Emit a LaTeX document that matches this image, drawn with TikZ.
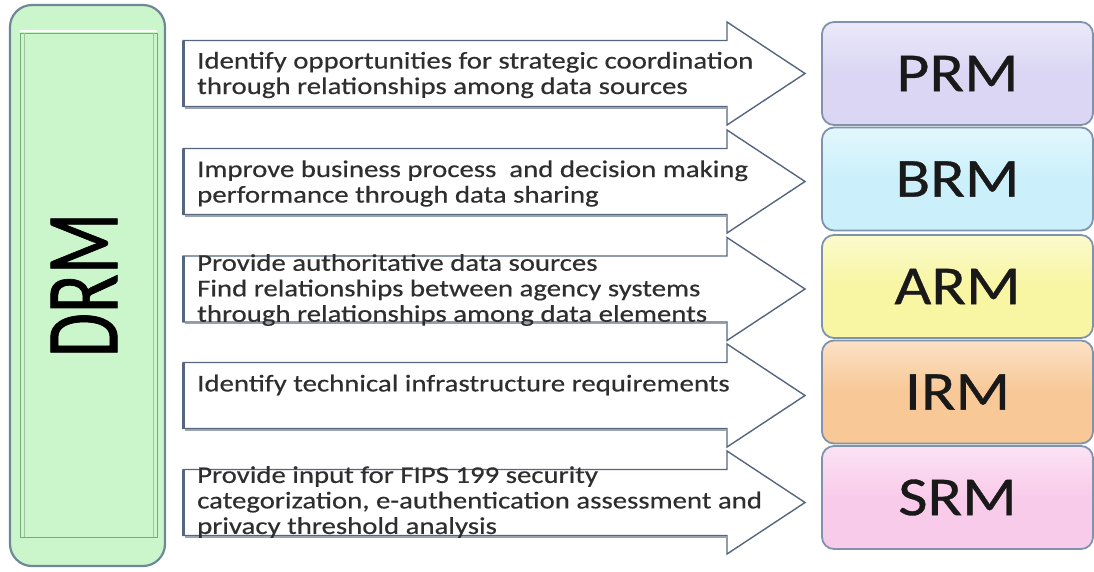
\documentclass[tikz,border=0pt]{standalone}
\usepackage{fontspec}
\usepackage{tikz}
\setmainfont[FakeStretch=1.2,FakeBold=0.4]{Carlito}
\newfontfamily\drmfont[FakeStretch=0.69,FakeBold=0.6]{Carlito}
\newfontfamily\boxfont[FakeStretch=1.16,FakeBold=0.6]{Carlito}

\definecolor{drmfill}{HTML}{CBF5CB}
\definecolor{drmline}{HTML}{6F8898}
\definecolor{drmgreen}{HTML}{74AE74}
\definecolor{arrline}{HTML}{56667E}
\definecolor{txtgray}{HTML}{2E2E2E}
\definecolor{boxline}{HTML}{7F93AD}
\definecolor{prmfill}{HTML}{DAD6F4}
\definecolor{brmfill}{HTML}{CBF0FB}
\definecolor{armfill}{HTML}{F8F6A2}
\definecolor{irmfill}{HTML}{F8C896}
\definecolor{srmfill}{HTML}{F9CBEA}

\begin{document}
\begin{tikzpicture}[x=1pt,y=-1pt,
  arrowtext/.style={anchor=west,align=left,inner sep=0pt,text=txtgray,
    font=\fontsize{24}{25.5}\selectfont},
  arrowline/.style={draw=arrline,line width=1.4pt,fill=white,line join=miter},
  refbox/.style={draw=boxline,line width=1.8pt,rounded corners=12pt,
    minimum width=271pt,minimum height=103pt,text=black!90,
    font=\boxfont\fontsize{55}{60}\selectfont}]
\useasboundingbox (0,0) rectangle (1094,571);

% DRM column
\draw[drmline,fill=drmfill,rounded corners=22pt,line width=2.2pt] (10,5) rectangle (165,566);
\draw[white,line width=2pt] (20,31) -- (157,31);
\draw[drmgreen,line width=1pt] (20,33) rectangle (157,537);
\draw[drmgreen!70,line width=0.8pt] (24,33) -- (24,537);
\draw[drmgreen!70,line width=0.8pt] (153,33) -- (153,537);
\node[rotate=90,text=black,font=\drmfont\fontsize{104}{104}\selectfont] (drm) at (84,285) {DRM};

% arrows
\foreach \c in {73.5,181.5,289,395.5,502.5}{
  \draw[arrowline] (183,\c-33) -- (727,\c-33) -- (727,\c-51.5) -- (805,\c)
    -- (727,\c+51.5) -- (727,\c+33) -- (183,\c+33) -- cycle;
  \draw[arrline,line width=3pt] (183,\c-33) -- (183,\c+33);
  \draw[arrline!60,line width=1.5pt] (185,\c+34.5) -- (727,\c+34.5);
}

\node[arrowtext] (goal1) at (197,75) {Identify opportunities for strategic coordination\\through relationships among data sources};
\node[arrowtext] (goal2) at (197,183.5) {Improve business process\ \ and decision making\\performance through data sharing};
\node[arrowtext] (goal3) at (197,290) {Provide authoritative data sources\\Find relationships between agency systems\\through relationships among data elements};
\node[arrowtext] (goal4) at (197,385) {Identify technical infrastructure requirements};
\node[arrowtext] (goal5) at (197,502) {Provide input for FIPS 199 security\\categorization, e-authentication assessment and\\privacy threshold analysis};

% reference models
\node[refbox,top color=prmfill!55!white,bottom color=prmfill,middle color=prmfill] (prm) at (957.5,73.5) {PRM};
\node[refbox,top color=brmfill!55!white,bottom color=brmfill,middle color=brmfill] (brm) at (957.5,179) {BRM};
\node[refbox,top color=armfill!55!white,bottom color=armfill,middle color=armfill] (arm) at (957.5,286.5) {ARM};
\node[refbox,top color=irmfill!55!white,bottom color=irmfill,middle color=irmfill] (irm) at (957.5,392) {IRM};
\node[refbox,top color=srmfill!55!white,bottom color=srmfill,middle color=srmfill] (srm) at (957.5,497.5) {SRM};

\end{tikzpicture}
\end{document}
